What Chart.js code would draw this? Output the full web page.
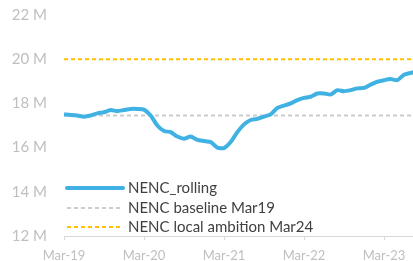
<!DOCTYPE html>
<html><head><meta charset="utf-8">
<script src="https://cdn.jsdelivr.net/npm/chart.js@4"></script>
<style>html,body{margin:0;padding:0;background:#fff}#w{width:413px;height:261px;position:relative}</style>
</head><body><div id="w"><canvas id="c" width="413" height="261"></canvas></div>
<script>
const xTickLabels = ["Mar-19","Mar-20","Mar-21","Mar-22","Mar-23"];
const yTicks = [12,14,16,18,20,22];
const seriesNames = ["NENC_rolling","NENC baseline Mar19","NENC local ambition Mar24"];
// monthly rolling values (millions), index 0 = Mar-19
const rolling = [17.5,17.48,17.45,17.4,17.45,17.55,17.6,17.7,17.65,17.7,17.75,17.75,
 17.72,17.45,17.0,16.75,16.7,16.5,16.4,16.5,16.35,16.3,16.25,16.0,
 15.98,16.25,16.7,17.05,17.25,17.3,17.4,17.5,17.8,17.9,18.0,18.15,
 18.25,18.3,18.45,18.45,18.4,18.6,18.55,18.6,18.68,18.7,18.85,18.98,
 19.05,19.1,19.05,19.3,19.38,19.45];
const baseline = [17.45,17.45];
const ambition = [20,20];

const M = 1e6;
const rollPts = rolling.map((v,i)=>({x:i,y:v*M}));
const lastX = rolling.length-1;
const basePts = [{x:0,y:baseline[0]*M},{x:lastX,y:baseline[1]*M}];
const ambPts = [{x:0,y:ambition[0]*M},{x:lastX,y:ambition[1]*M}];

const FONT = "Lato";
const legendPlugin = {
  id:'customLegend',
  afterDraw(chart){
    const ctx = chart.ctx;
    const x0 = chart.chartArea.left+3, x1 = x0+56, tx = x1+5;
    const ys = [chart.chartArea.bottom-48, chart.chartArea.bottom-28, chart.chartArea.bottom-9];
    chart.data.datasets.forEach((ds,i)=>{
      ctx.save();
      ctx.strokeStyle = ds.borderColor;
      ctx.lineWidth = ds.borderWidth;
      ctx.setLineDash(ds.borderDash||[]);
      ctx.lineCap = i===0?'round':'butt';
      ctx.beginPath(); ctx.moveTo(x0,ys[i]); ctx.lineTo(x1,ys[i]); ctx.stroke();
      ctx.setLineDash([]);
      ctx.fillStyle = '#404040';
      ctx.font = "15px "+FONT;
      ctx.textBaseline='middle';
      ctx.fillText(seriesNames[i], tx, ys[i]);
      ctx.restore();
    });
  }
};

new Chart(document.getElementById('c'),{
  type:'line',
  data:{datasets:[
    {label:seriesNames[0],data:rollPts,borderColor:'#3fb2e3',borderWidth:4,pointRadius:0,tension:0.2},
    {label:seriesNames[1],data:basePts,borderColor:'#cccccc',borderWidth:2,borderDash:[4,3],pointRadius:0},
    {label:seriesNames[2],data:ambPts,borderColor:'#ffc000',borderWidth:2,borderDash:[4,3],pointRadius:0}
  ]},
  options:{
    responsive:false,animation:false,
    layout:{padding:{top:15,right:0,left:0,bottom:0}},
    plugins:{legend:{display:false},tooltip:{enabled:false}},
    scales:{
      x:{type:'linear',min:0,max:52.35,
        afterBuildTicks(s){s.ticks = xTickLabels.map((l,i)=>({value:i*12}));},
        afterFit(s){s.height=25;s.paddingLeft=0;s.paddingRight=0;},
        grid:{display:true,drawOnChartArea:false,drawTicks:true,tickLength:4,color:'#d9d9d9'},
        border:{display:true,color:'#d9d9d9'},
        ticks:{callback:(v)=>xTickLabels[Math.round(v/12)],color:'#bfbfbf',font:{family:FONT,size:13},padding:8,maxRotation:0,autoSkip:false}
      },
      y:{min:12*M,max:22*M,
        afterBuildTicks(s){s.ticks = yTicks.map(v=>({value:v*M}));},
        afterFit(s){s.width=64;s.paddingTop=0;s.paddingBottom=0;},
        grid:{display:false,drawTicks:false},
        border:{display:false},
        ticks:{callback:(v)=>(v/M)+' M',color:'#bfbfbf',font:{family:FONT,size:15},padding:17}
      }
    }
  },
  plugins:[legendPlugin]
});
</script></body></html>
